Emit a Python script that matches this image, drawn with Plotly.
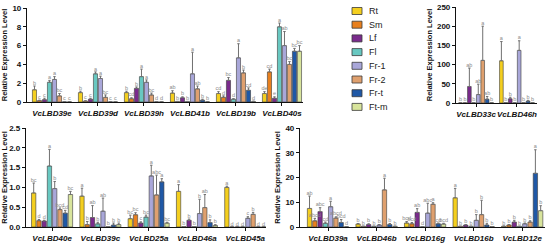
import plotly.graph_objects as go

TISSUES = ["Rt", "Sm", "Lf", "Fl", "Fr-1", "Fr-2", "Fr-t", "Ft-m"]
COLORS = ["#F4CF1F", "#E8801E", "#7A2B8C", "#68C8C1", "#A9A7D9", "#DFA06E", "#1F58A6", "#D8E49C"]

# top-left panel: rows = genes, columns = tissues
GENES_A = ["VcLBD39e", "VcLBD39d", "VcLBD39h", "VcLBD41b", "VcLBD19b", "VcLBD40s"]
MEAN_A = [[1.3, 0.15, 0.25, 2.1, 2.4, 0.65, 0.02, 0.02],
          [1.0, 0.1, 0.3, 3.0, 2.5, 0.5, 0.02, 0.02],
          [1.0, 0.35, 1.45, 2.7, 2.1, 0.75, 0.02, 0.02],
          [0.95, 0.05, 0.45, 0.05, 3.0, 1.4, 0.2, 0.02],
          [0.9, 0.5, 2.3, 0.3, 4.7, 3.1, 1.25, 0.05],
          [0.9, 3.2, 0.4, 8.0, 6.0, 4.0, 5.4, 5.4]]
SD_A = [[0.4, 0.05, 0.15, 0.2, 0.3, 0.25, 0, 0],
        [0.15, 0.03, 0.1, 0.2, 0.25, 0.25, 0, 0],
        [0.15, 0.1, 0.15, 0.8, 0.25, 0.2, 0, 0],
        [0.25, 0.02, 0.1, 0.02, 2.3, 0.3, 0.1, 0],
        [0.2, 0.15, 0.3, 0.05, 1.5, 0.3, 0.25, 0.05],
        [0.2, 0.3, 0.15, 0.4, 1.5, 0.3, 0.3, 0.6]]
SIG_A = [["b", "c", "c", "a", "a", "bc", "c", "c"],
         ["b", "c", "c", "a", "a", "bc", "c", "c"],
         ["b", "cd", "b", "a", "a", "bc", "d", "d"],
         ["ab", "b", "b", "b", "a", "ab", "b", "b"],
         ["cd", "d", "bc", "d", "a", "b", "cd", "d"],
         ["de", "cd", "e", "a", "ab", "bc", "bc", "bc"]]

# top-right panel
GENES_B = ["VcLBD33c", "VcLBD46h"]
MEAN_B = [[0.5, 0.5, 43, 0.5, 22, 111, 10, 1],
          [110, 1, 11, 0.5, 137, 1, 5, 1]]
SD_B = [[0, 0, 48, 0, 27, 89, 7, 0],
        [50, 0, 4, 0, 25, 0, 2, 0]]
SIG_B = [["b", "b", "ab", "b", "ab", "a", "ab", "b"],
         ["a", "b", "b", "b", "a", "b", "b", "b"]]

# bottom-left panel
GENES_C = ["VcLBD40e", "VcLBD39c", "VcLBD25a", "VcLBD46a", "VcLBD45a"]
MEAN_C = [[0.86, 0.16, 0.15, 1.54, 0.97, 0.44, 0.35, 0.82],
          [0.78, 0.06, 0.24, 0.08, 0.4, 0.01, 0.05, 0.06],
          [0.21, 0.31, 0.1, 0.25, 1.29, 0.81, 1.14, 0.1],
          [0.9, 0.01, 0.17, 0.01, 0.34, 0.49, 0.11, 0.04],
          [1.0, 0.003, 0.003, 0.003, 0.22, 0.32, 0.003, 0.003]]
SD_C = [[0.25, 0.03, 0.02, 0.42, 0.18, 0.04, 0.07, 0.08],
        [0.2, 0.08, 0.3, 0.04, 0.33, 0, 0.05, 0.04],
        [0.09, 0.05, 0.03, 0.05, 0.27, 0.5, 0.08, 0.02],
        [0.17, 0, 0.03, 0, 0.36, 0.33, 0.07, 0.02],
        [0.03, 0, 0, 0, 0.04, 0.05, 0, 0]]
SIG_C = [["bc", "d", "d", "a", "b", "bcd", "cd", "bc"],
         ["a", "b", "ab", "b", "ab", "b", "b", "b"],
         ["bc", "bc", "c", "bc", "a", "abc", "a", "bc"],
         ["a", "b", "b", "b", "b", "ab", "b", "b"],
         ["a", "d", "d", "d", "c", "b", "d", "d"]]

# bottom-right panel
GENES_D = ["VcLBD39a", "VcLBD46b", "VcLBD16g", "VcLBD16b", "VcLBD12e"]
MEAN_D = [[7.5, 2.5, 6.2, 1.5, 8.2, 3.6, 1.8, 0.1],
          [1.2, 0.3, 1.0, 0.3, 0.8, 15, 1.0, 0.3],
          [1.6, 1.3, 5.9, 0.1, 5.6, 9.2, 1.3, 1.2],
          [11.8, 0.3, 0.8, 0.3, 2.7, 5.0, 0.8, 0.2],
          [0.3, 0.8, 2.0, 0.3, 1.3, 2.0, 21.7, 6.6]]
SD_D = [[5.0, 1.0, 1.6, 0.5, 2.2, 0.5, 1.2, 0],
        [0.2, 0, 0.3, 0, 0.2, 4.7, 0.4, 0],
        [0.6, 0.5, 1.5, 0, 4.0, 0.6, 0.3, 0.3],
        [3.8, 0, 0.2, 0, 2.3, 5.8, 0.7, 0],
        [0.1, 0.2, 0.7, 0, 0.3, 0.5, 9.5, 2.0]]
SIG_D = [["ab", "abcd", "abc", "cd", "a", "abcd", "bcd", "d"],
         ["b", "b", "b", "b", "b", "a", "b", "b"],
         ["bcd", "bcd", "ab", "d", "abc", "a", "cd", "bcd"],
         ["a", "b", "b", "b", "b", "b", "b", "b"],
         ["b", "b", "b", "b", "b", "b", "a", "b"]]

W, H = 550, 245
BARGAP, GROUPGAP = 0.13, 0.18
FONT = "Arial, Liberation Sans, sans-serif"
N = len(TISSUES)

fig = go.Figure()


def add_panel(sfx, genes, mean, sd, sig):
    n = len(genes)
    xs = list(range(n))
    xa, ya = "x" + sfx, "y" + sfx
    tx, ty, tt = [], [], []
    for i, (name, col) in enumerate(zip(TISSUES, COLORS)):
        vals = [row[i] for row in mean]
        errs = [row[i] for row in sd]
        fig.add_trace(go.Bar(
            x=xs, y=vals, name=name, xaxis=xa, yaxis=ya, showlegend=False,
            marker=dict(color=col, line=dict(color="#3a3a3a", width=0.6)),
            error_y=dict(type="data", array=errs, arrayminus=[0] * n, symmetric=False,
                         color="#707070", thickness=1, width=1.2)))
        # centre of this tissue's bar inside its group (same rule plotly uses for barmode=group)
        off = -(1 - BARGAP) / 2 + (i + 0.5) * (1 - BARGAP) / N
        for g in xs:
            tx.append(g + off)
            ty.append(mean[g][i] + sd[g][i])
            tt.append(sig[g][i])
    fig.add_trace(go.Scatter(x=tx, y=ty, text=tt, mode="text", textposition="top center",
                             textfont=dict(size=5.5, color="#8a8a8a", family=FONT),
                             xaxis=xa, yaxis=ya, showlegend=False, cliponaxis=False,
                             hoverinfo="skip"))


add_panel("", GENES_A, MEAN_A, SD_A, SIG_A)
add_panel("2", GENES_B, MEAN_B, SD_B, SIG_B)
add_panel("3", GENES_C, MEAN_C, SD_C, SIG_C)
add_panel("4", GENES_D, MEAN_D, SD_D, SIG_D)


def px(a, b):
    return [a / W, b / W]


def py(top, bottom):
    return [1 - bottom / H, 1 - top / H]


axis_common = dict(showline=True, linecolor="#111", linewidth=1.2, ticks="outside",
                   ticklen=3, tickwidth=1, tickcolor="#111", showgrid=False, zeroline=False,
                   automargin=False)
xfont = dict(size=8, family=FONT, color="#111", weight="bold", style="italic")
yfont = dict(size=8, family=FONT, color="#111", weight="bold")
ytitle = dict(text="Relative Expression Level",
              font=dict(size=7.5, family=FONT, color="#111", weight="bold"), standoff=3)

panels = [
    ("", GENES_A, px(27, 303), py(8, 102), [-0.543, 5.457], [0, 10], 2, None),
    ("2", GENES_B, px(456, 537), py(7, 103), [-0.49, 1.49], [0, 250], 50, None),
    ("3", GENES_C, px(26, 266), py(128, 227), [-0.54, 4.43], [0, 2.5], 0.5, ".1f"),
    ("4", GENES_D, px(300, 545), py(128, 227), [-0.577, 4.47], [0, 40], 10, None),
]
for sfx, genes, dx, dy, xr, yr, dt, fmt in panels:
    fig.update_layout({
        "xaxis" + sfx: dict(axis_common, domain=dx, range=xr, anchor="y" + sfx, tickangle=0,
                            tickvals=list(range(len(genes))), ticktext=genes, tickfont=xfont),
        "yaxis" + sfx: dict(axis_common, domain=dy, range=yr, anchor="x" + sfx, dtick=dt,
                            tickformat=fmt, tickfont=yfont, title=ytitle),
    })

# legend drawn by hand (plotly's legend rows are too tall for this spacing)
for i, (name, col) in enumerate(zip(TISSUES, COLORS)):
    yc = 11 + i * 13.7
    fig.add_shape(type="rect", xref="paper", yref="paper",
                  x0=352 / W, x1=362 / W, y0=1 - (yc + 3.5) / H, y1=1 - (yc - 3.5) / H,
                  fillcolor=col, line=dict(color="#3a3a3a", width=0.8))
    fig.add_annotation(x=367 / W, y=1 - yc / H, xref="paper", yref="paper", text=name,
                       showarrow=False, xanchor="left", yanchor="middle",
                       font=dict(size=9, family=FONT, color="#222"))

fig.update_layout(width=W, height=H, margin=dict(l=0, r=0, t=0, b=0),
                  barmode="group", bargap=BARGAP, bargroupgap=GROUPGAP,
                  paper_bgcolor="white", plot_bgcolor="white", showlegend=False)

# the page body has a default 8px margin; drop it so the figure sits at the window origin
fig.write_html("out.html", config={"displayModeBar": False},
               post_script="document.body.style.margin='0px';")
